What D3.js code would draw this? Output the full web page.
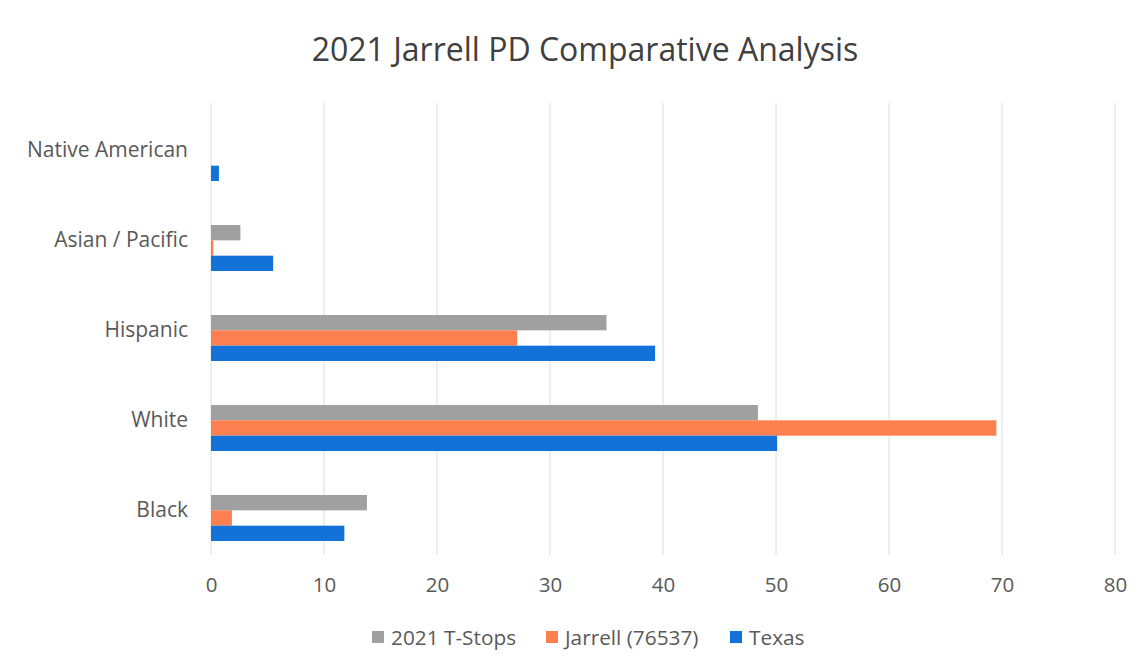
<!DOCTYPE html>
<html><head><meta charset="utf-8">
<script src="https://cdn.jsdelivr.net/npm/d3@7"></script>
<style>body{margin:0;background:#fff;} text{font-family:"Open Sans",sans-serif;}</style>
</head><body>
<svg id="c" width="1144" height="672"></svg>
<script>
const categories = ["Native American","Asian / Pacific","Hispanic","White","Black"];
const seriesNames = ["2021 T-Stops","Jarrell (76537)","Texas"];
const tStops  = [0, 2.6, 35.0, 48.4, 13.8];
const jarrell = [0, 0.2, 27.1, 69.5, 1.85];
const texas   = [0.7, 5.5, 39.3, 50.1, 11.8];
const xTicks = [0,10,20,30,40,50,60,70,80];
const colors = ["#a0a0a0","#fb7f4f","#1372d8"];
const title = "2021 Jarrell PD Comparative Analysis";

const svg = d3.select("#c");
svg.append("rect").attr("width",1144).attr("height",672).attr("fill","#fff");
const x = d3.scaleLinear().domain([0,80]).range([211,1115]);
const y = d3.scaleBand().domain(categories).range([113,563]).paddingInner(0).paddingOuter(0);
const sub = d3.scaleBand().domain(seriesNames).range([0,46]);
const gridTop = 103, gridBottom = 555;

// gridlines
svg.append("g").selectAll("line").data(xTicks).join("line")
  .attr("x1",d=>x(d)).attr("x2",d=>x(d)).attr("y1",gridTop).attr("y2",gridBottom)
  .attr("stroke","#dcdcdc").attr("stroke-width",1);

// x axis labels
const xAxis = d3.axisBottom(x).tickValues(xTicks).tickSize(0).tickPadding(0);
const gx = svg.append("g").attr("transform",`translate(0,${gridBottom})`).call(xAxis);
gx.select(".domain").remove();
gx.selectAll("text").attr("font-size",20.5).attr("fill","#595959").attr("dy","0").attr("y",37)
  .style("font-family","Open Sans");

// y labels
const yAxis = d3.axisLeft(y).tickSize(0).tickPadding(0);
const gy = svg.append("g").attr("transform","translate(188,-8)").call(yAxis);
gy.select(".domain").remove();
gy.selectAll("text").attr("font-size",21).attr("fill","#595959").style("font-family","Open Sans");

const data = [tStops, jarrell, texas];
seriesNames.forEach((s,i)=>{
  svg.append("g").selectAll("rect").data(categories).join("rect")
    .attr("x",x(0))
    .attr("y",(c)=> y(c) + y.bandwidth()/2 - 23 + sub(s))
    .attr("height",sub.bandwidth())
    .attr("width",(c,j)=> x(data[i][j]) - x(0))
    .attr("fill",colors[i]);
});

// title
svg.append("text").attr("x",585).attr("y",61).attr("text-anchor","middle")
  .attr("font-size",32).attr("fill","#404040").text(title);

// legend
const legendItems = [
  {name:seriesNames[0], color:colors[0], x:372},
  {name:seriesNames[1], color:colors[1], x:546},
  {name:seriesNames[2], color:colors[2], x:730}
];
const lg = svg.append("g");
legendItems.forEach(d=>{
  lg.append("rect").attr("x",d.x).attr("y",631).attr("width",12).attr("height",12).attr("fill",d.color);
  lg.append("text").attr("x",d.x+19).attr("y",644.5).attr("font-size",20.8).attr("fill","#595959").text(d.name);
});
</script>
</body></html>
